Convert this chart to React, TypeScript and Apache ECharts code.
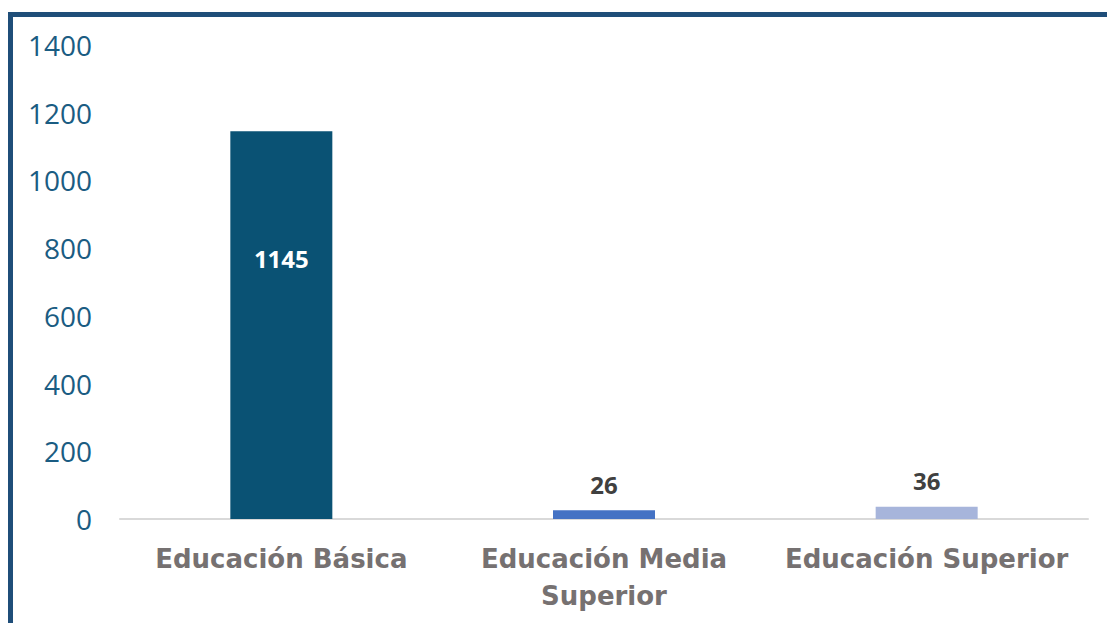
import React, { useEffect, useRef } from "react";
import * as echarts from "echarts";

const categories = ["Educación Básica", "Educación Media Superior", "Educación Superior"];
const categoryLabels = ["Educación Básica", "Educación Media\nSuperior", "Educación Superior"];
const values = [1145, 26, 36];
const barColors = ["#0A5274", "#4472C4", "#A7B5DB"];
const yTicks = [0, 200, 400, 600, 800, 1000, 1200, 1400];

export default function App() {
  const ref = useRef<HTMLDivElement>(null);
  useEffect(() => {
    document.body.style.margin = "0";
    const chart = echarts.init(ref.current!, null, { renderer: "svg" });
    const font = "'Open Sans', 'Noto Sans', sans-serif";
    const catFont = "'DejaVu Sans', 'Open Sans', sans-serif";
    chart.setOption({
      animation: false,
      backgroundColor: "#ffffff",
      grid: { left: 120, right: 19, top: 45, bottom: 104, containLabel: false },
      graphic: [
        {
          type: "rect",
          shape: { x: 10.5, y: 14.5, width: 1200, height: 700 },
          style: { fill: "none", stroke: "#1F4E79", lineWidth: 5 },
          z: 100,
        },
      ],
      xAxis: {
        type: "category",
        data: categories,
        axisLine: { show: true, lineStyle: { color: "#D9D9D9", width: 2 } },
        axisTick: { show: false },
        axisLabel: {
          interval: 0,
          margin: 21,
          fontFamily: catFont,
          fontWeight: "bold",
          fontSize: 26,
          lineHeight: 37,
          color: "#767171",
          formatter: (_v: string, i: number) => categoryLabels[i],
        },
      },
      yAxis: {
        type: "value",
        min: yTicks[0],
        max: yTicks[yTicks.length - 1],
        interval: 200,
        axisLine: { show: false },
        axisTick: { show: false },
        splitLine: { show: false },
        axisLabel: {
          margin: 28,
          fontFamily: font,
          fontSize: 28,
          color: "#1A5C82",
          formatter: (v: number) => String(v),
        },
      },
      series: [
        {
          type: "bar",
          barWidth: 102,
          data: values.map((v, i) => ({
            value: v,
            itemStyle: { color: barColors[i] },
            label:
              i === 0
                ? {
                    show: true,
                    position: ["50%", 127],
                    align: "center",
                    verticalAlign: "middle",
                    color: "#ffffff",
                  }
                : {
                    show: true,
                    position: "top",
                    distance: 14,
                    color: "#404040",
                  },
          })),
          label: {
            show: true,
            fontFamily: font,
            fontWeight: "bold",
            fontSize: 24,
          },
        },
      ],
    });
    return () => chart.dispose();
  }, []);
  return <div ref={ref} style={{ width: 1107, height: 623 }} />;
}
